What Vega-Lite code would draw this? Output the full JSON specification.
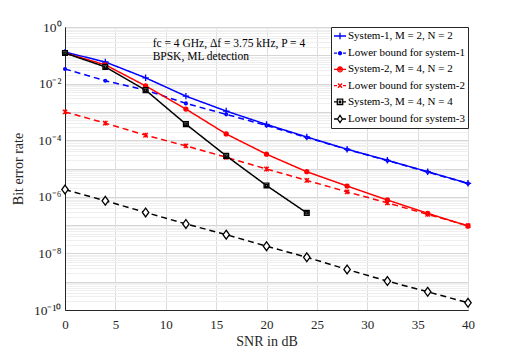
{
  "$schema": "https://vega.github.io/schema/vega-lite/v6.json",
  "width": 403,
  "height": 283,
  "autosize": "none",
  "padding": {"left": 65, "top": 27, "right": 50, "bottom": 44},
  "background": "white",
  "config": {
    "font": "Liberation Serif",
    "view": {"stroke": "#262626", "strokeWidth": 1},
    "legend": {
      "orient": "top-right", "offset": 0, "padding": 2, "fillColor": "white", "strokeColor": "#262626",
      "labelFont": "Liberation Serif", "labelFontSize": 11, "labelColor": "black", "symbolSize": 144,
      "symbolStrokeWidth": 1.3, "symbolOpacity": 1, "rowPadding": 4.2, "labelOffset": 1, "labelLimit": 300
    }
  },
  "data": {"values": [
    {"snr": 0, "ber": 0.13, "series": "System-1, M = 2, N = 2"},
    {"snr": 4, "ber": 0.058, "series": "System-1, M = 2, N = 2"},
    {"snr": 8, "ber": 0.016, "series": "System-1, M = 2, N = 2"},
    {"snr": 12, "ber": 0.0036, "series": "System-1, M = 2, N = 2"},
    {"snr": 16, "ber": 0.00107, "series": "System-1, M = 2, N = 2"},
    {"snr": 20, "ber": 0.00036, "series": "System-1, M = 2, N = 2"},
    {"snr": 24, "ber": 0.00013, "series": "System-1, M = 2, N = 2"},
    {"snr": 28, "ber": 0.000048, "series": "System-1, M = 2, N = 2"},
    {"snr": 32, "ber": 0.0000195, "series": "System-1, M = 2, N = 2"},
    {"snr": 36, "ber": 0.0000077, "series": "System-1, M = 2, N = 2"},
    {"snr": 40, "ber": 0.000003, "series": "System-1, M = 2, N = 2"},
    {"snr": 0, "ber": 0.033, "series": "Lower bound for system-1"},
    {"snr": 4, "ber": 0.0126, "series": "Lower bound for system-1"},
    {"snr": 8, "ber": 0.0059, "series": "Lower bound for system-1"},
    {"snr": 12, "ber": 0.002, "series": "Lower bound for system-1"},
    {"snr": 16, "ber": 0.00082, "series": "Lower bound for system-1"},
    {"snr": 20, "ber": 0.00033, "series": "Lower bound for system-1"},
    {"snr": 24, "ber": 0.000125, "series": "Lower bound for system-1"},
    {"snr": 28, "ber": 0.000047, "series": "Lower bound for system-1"},
    {"snr": 32, "ber": 0.000019, "series": "Lower bound for system-1"},
    {"snr": 36, "ber": 0.0000075, "series": "Lower bound for system-1"},
    {"snr": 40, "ber": 0.00000295, "series": "Lower bound for system-1"},
    {"snr": 0, "ber": 0.12, "series": "System-2, M = 4, N = 2"},
    {"snr": 4, "ber": 0.046, "series": "System-2, M = 4, N = 2"},
    {"snr": 8, "ber": 0.0083, "series": "System-2, M = 4, N = 2"},
    {"snr": 12, "ber": 0.00126, "series": "System-2, M = 4, N = 2"},
    {"snr": 16, "ber": 0.000166, "series": "System-2, M = 4, N = 2"},
    {"snr": 20, "ber": 0.000032, "series": "System-2, M = 4, N = 2"},
    {"snr": 24, "ber": 0.0000077, "series": "System-2, M = 4, N = 2"},
    {"snr": 28, "ber": 0.0000024, "series": "System-2, M = 4, N = 2"},
    {"snr": 32, "ber": 0.00000077, "series": "System-2, M = 4, N = 2"},
    {"snr": 36, "ber": 0.00000026, "series": "System-2, M = 4, N = 2"},
    {"snr": 40, "ber": 0.000000093, "series": "System-2, M = 4, N = 2"},
    {"snr": 0, "ber": 0.001, "series": "Lower bound for system-2"},
    {"snr": 4, "ber": 0.0004, "series": "Lower bound for system-2"},
    {"snr": 8, "ber": 0.00015, "series": "Lower bound for system-2"},
    {"snr": 12, "ber": 0.000063, "series": "Lower bound for system-2"},
    {"snr": 16, "ber": 0.000025, "series": "Lower bound for system-2"},
    {"snr": 20, "ber": 0.0000096, "series": "Lower bound for system-2"},
    {"snr": 24, "ber": 0.0000038, "series": "Lower bound for system-2"},
    {"snr": 28, "ber": 0.0000015, "series": "Lower bound for system-2"},
    {"snr": 32, "ber": 0.00000061, "series": "Lower bound for system-2"},
    {"snr": 36, "ber": 0.00000024, "series": "Lower bound for system-2"},
    {"snr": 40, "ber": 0.000000095, "series": "Lower bound for system-2"},
    {"snr": 0, "ber": 0.12, "series": "System-3, M = 4, N = 4"},
    {"snr": 4, "ber": 0.039, "series": "System-3, M = 4, N = 4"},
    {"snr": 8, "ber": 0.0059, "series": "System-3, M = 4, N = 4"},
    {"snr": 12, "ber": 0.00037, "series": "System-3, M = 4, N = 4"},
    {"snr": 16, "ber": 0.000028, "series": "System-3, M = 4, N = 4"},
    {"snr": 20, "ber": 0.0000025, "series": "System-3, M = 4, N = 4"},
    {"snr": 24, "ber": 0.00000027, "series": "System-3, M = 4, N = 4"},
    {"snr": 0, "ber": 0.0000018, "series": "Lower bound for system-3"},
    {"snr": 4, "ber": 0.00000072, "series": "Lower bound for system-3"},
    {"snr": 8, "ber": 0.00000028, "series": "Lower bound for system-3"},
    {"snr": 12, "ber": 0.00000011, "series": "Lower bound for system-3"},
    {"snr": 16, "ber": 0.000000046, "series": "Lower bound for system-3"},
    {"snr": 20, "ber": 0.000000018, "series": "Lower bound for system-3"},
    {"snr": 24, "ber": 0.0000000073, "series": "Lower bound for system-3"},
    {"snr": 28, "ber": 0.0000000027, "series": "Lower bound for system-3"},
    {"snr": 32, "ber": 0.00000000105, "series": "Lower bound for system-3"},
    {"snr": 36, "ber": 0.00000000044, "series": "Lower bound for system-3"},
    {"snr": 40, "ber": 0.00000000018, "series": "Lower bound for system-3"}
  ]},
  "encoding": {
    "x": {"field": "snr", "type": "quantitative", "scale": {"domain": [0, 40], "nice": false},
      "axis": {"values": [0, 5, 10, 15, 20, 25, 30, 35, 40], "title": "SNR in dB", "titleFontSize": 14, "titleFontWeight": "normal",
        "titleColor": "#262626", "labelFontSize": 13, "labelColor": "#262626", "labelPadding": 8, "ticks": false,
        "domainColor": "#262626", "gridColor": "#dcdcdc", "titlePadding": 3, "labelFlush": false}},
    "y": {"field": "ber", "type": "quantitative", "scale": {"type": "log", "domain": [1e-10, 1], "nice": false},
      "axis": {
        "values": [1e-10,2e-10,3e-10,4e-10,5e-10,6e-10,7e-10,8e-10,9e-10,1e-9,2e-9,3e-9,4e-9,5e-9,6e-9,7e-9,8e-9,9e-9,1e-8,2e-8,3e-8,4e-8,5e-8,6e-8,7e-8,8e-8,9e-8,1e-7,2e-7,3e-7,4e-7,5e-7,6e-7,7e-7,8e-7,9e-7,1e-6,2e-6,3e-6,4e-6,5e-6,6e-6,7e-6,8e-6,9e-6,1e-5,2e-5,3e-5,4e-5,5e-5,6e-5,7e-5,8e-5,9e-5,1e-4,2e-4,3e-4,4e-4,5e-4,6e-4,7e-4,8e-4,9e-4,1e-3,2e-3,3e-3,4e-3,5e-3,6e-3,7e-3,8e-3,9e-3,1e-2,2e-2,3e-2,4e-2,5e-2,6e-2,7e-2,8e-2,9e-2,0.1,0.2,0.3,0.4,0.5,0.6,0.7,0.8,0.9,1],
        "labelExpr": "abs(log(datum.value)/LN10 - round(log(datum.value)/LN10)) > 0.001 ? '' : round(log(datum.value)/LN10) == 0 ? '10⁰' : round(log(datum.value)/LN10) == -2 ? '10⁻²' : round(log(datum.value)/LN10) == -4 ? '10⁻⁴' : round(log(datum.value)/LN10) == -6 ? '10⁻⁶' : round(log(datum.value)/LN10) == -8 ? '10⁻⁸' : round(log(datum.value)/LN10) == -10 ? '10⁻¹⁰' : ''",
        "title": "Bit error rate", "titleFontSize": 14, "titleFontWeight": "normal", "titleColor": "#262626",
        "labelFontSize": 13.5, "labelColor": "#262626", "labelPadding": 4, "ticks": false, "domainColor": "#262626",
        "labelOverlap": false, "labelFlush": false, "titlePadding": 8,
        "gridColor": {"condition": {"test": "abs(log(datum.value)/LN10 - round(log(datum.value)/LN10)) < 0.001", "value": "#d6d6d6"}, "value": "#efefef"}
      }}
  },
  "layer": [
    {
      "mark": {"type": "line", "strokeWidth": 1.5, "clip": true},
      "encoding": {
        "color": {"field": "series", "type": "nominal", "legend": null,
          "scale": {"domain": ["System-1, M = 2, N = 2", "Lower bound for system-1", "System-2, M = 4, N = 2", "Lower bound for system-2", "System-3, M = 4, N = 4", "Lower bound for system-3"],
            "range": ["#0000ff", "#0000ff", "#ff0000", "#ff0000", "#000000", "#000000"]}},
        "strokeDash": {"field": "series", "type": "nominal", "legend": null,
          "scale": {"domain": ["System-1, M = 2, N = 2", "Lower bound for system-1", "System-2, M = 4, N = 2", "Lower bound for system-2", "System-3, M = 4, N = 4", "Lower bound for system-3"],
            "range": [[1, 0], [6, 4], [1, 0], [6, 4], [1, 0], [6, 4]]}}
      }
    },
    {
      "mark": {"type": "point", "filled": false, "fill": "white", "strokeWidth": 1.3, "opacity": 1, "size": 64},
      "encoding": {
        "color": {"field": "series", "type": "nominal", "legend": null,
          "scale": {"domain": ["System-1, M = 2, N = 2", "Lower bound for system-1", "System-2, M = 4, N = 2", "Lower bound for system-2", "System-3, M = 4, N = 4", "Lower bound for system-3"],
            "range": ["#0000ff", "#0000ff", "#ff0000", "#ff0000", "#000000", "#000000"]}},
        "shape": {"field": "series", "type": "nominal", "legend": null,
          "scale": {"domain": ["System-1, M = 2, N = 2", "Lower bound for system-1", "System-2, M = 4, N = 2", "Lower bound for system-2", "System-3, M = 4, N = 4", "Lower bound for system-3"],
            "range": [
              "M-0.8,0L0.8,0M0,-0.8L0,0.8",
              "M-0.35,0A0.35,0.35 0 1,0 0.35,0A0.35,0.35 0 1,0 -0.35,0M-0.1,0A0.1,0.1 0 1,0 0.1,0A0.1,0.1 0 1,0 -0.1,0",
              "M-0.5,0A0.5,0.5 0 1,0 0.5,0A0.5,0.5 0 1,0 -0.5,0M-0.2,0A0.2,0.2 0 1,0 0.2,0A0.2,0.2 0 1,0 -0.2,0",
              "M-0.55,-0.55L0.55,0.55M-0.55,0.55L0.55,-0.55M0,-0.6L0,0.6",
              "M-0.6,-0.6H0.6V0.6H-0.6ZM-0.25,-0.25H0.25V0.25H-0.25Z",
              "M0,-1.1L0.8,0L0,1.1L-0.8,0Z"
            ]}}
      }
    },
    {
      "mark": {"type": "point", "filled": false, "strokeWidth": 1.3, "opacity": 0},
      "encoding": {
        "color": {"field": "series", "type": "nominal", "legend": {"title": null},
          "scale": {"domain": ["System-1, M = 2, N = 2", "Lower bound for system-1", "System-2, M = 4, N = 2", "Lower bound for system-2", "System-3, M = 4, N = 4", "Lower bound for system-3"],
            "range": ["#0000ff", "#0000ff", "#ff0000", "#ff0000", "#000000", "#000000"]}},
        "shape": {"field": "series", "type": "nominal", "legend": {"title": null},
          "scale": {"domain": ["System-1, M = 2, N = 2", "Lower bound for system-1", "System-2, M = 4, N = 2", "Lower bound for system-2", "System-3, M = 4, N = 4", "Lower bound for system-3"],
            "range": [
              "M-1,0L1,0M0,-0.55L0,0.55",
              "M-1,0L-0.5,0M0.5,0L1,0M-0.25,0A0.25,0.25 0 1,0 0.25,0A0.25,0.25 0 1,0 -0.25,0M-0.1,0A0.1,0.1 0 1,0 0.1,0A0.1,0.1 0 1,0 -0.1,0",
              "M-1,0L1,0M-0.4,0A0.4,0.4 0 1,0 0.4,0A0.4,0.4 0 1,0 -0.4,0M-0.15,0A0.15,0.15 0 1,0 0.15,0A0.15,0.15 0 1,0 -0.15,0",
              "M-1,0L-0.5,0M0.5,0L1,0M-0.35,-0.35L0.35,0.35M-0.35,0.35L0.35,-0.35",
              "M-1,0L-0.45,0M0.45,0L1,0M-0.45,-0.45H0.45V0.45H-0.45ZM-0.12,-0.12H0.12V0.12H-0.12Z",
              "M-1,0L-0.4,0M0.4,0L1,0M0,-0.6L0.4,0L0,0.6L-0.4,0Z"
            ]}}
      }
    },
    {
      "data": {"values": [{"note": "fc = 4 GHz, Δf = 3.75 kHz, P = 4", "snr": 8.7, "ber": 0.25}, {"note": "BPSK, ML detection", "snr": 8.7, "ber": 0.087}]},
      "mark": {"type": "text", "align": "left", "baseline": "middle", "fontSize": 11.5, "font": "Liberation Serif", "color": "black"},
      "encoding": {"text": {"field": "note", "type": "nominal"}}
    }
  ],
  "resolve": {"scale": {"shape": "independent", "color": "independent"}}
}
